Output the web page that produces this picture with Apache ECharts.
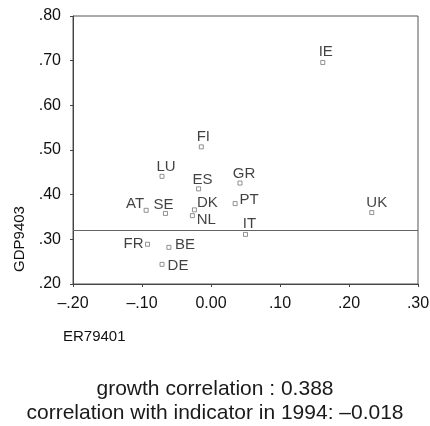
<!DOCTYPE html>
<html>
<head>
<meta charset="utf-8">
<script src="https://cdn.jsdelivr.net/npm/echarts@6/dist/echarts.min.js"></script>
<style>
  html, body { margin: 0; padding: 0; background: #fff; }
  #chart { width: 430px; height: 426px; }
</style>
</head>
<body>
<div id="chart"></div>
<script>
// Country codes and their two measures
const countries = ['IE', 'FI', 'LU', 'ES', 'GR', 'AT', 'SE', 'DK', 'NL', 'PT', 'IT', 'UK', 'FR', 'BE', 'DE'];
const er79401 = [0.162, -0.014, -0.071, -0.018, 0.042, -0.094, -0.066, -0.024, -0.027, 0.035, 0.050, 0.233, -0.092, -0.061, -0.071];
const gdp9403 = [0.696, 0.507, 0.441, 0.413, 0.426, 0.365, 0.358, 0.366, 0.353, 0.380, 0.311, 0.360, 0.289, 0.282, 0.244];

// Horizontal reference level on the GDP axis
const refLevel = 0.321;

// Tick labels
const xTicks = ['–.20', '–.10', '0.00', '.10', '.20', '.30'];
const yTicks = ['.20', '.30', '.40', '.50', '.60', '.70', '.80'];

// Summary lines shown beneath the plot
const summary = ['growth correlation : 0.388', 'correlation with indicator in 1994: –0.018'];

// Label placement around each marker, in pixels [dx, dy]
const labelShift = {
  IE: [3, -11], FI: [2, -10], LU: [4, -9], ES: [4, -9], GR: [4, -9],
  AT: [-11, -6], SE: [-2, -9], DK: [13, -7], NL: [14, 4], PT: [14, -4],
  IT: [4, -11], UK: [5, -10], FR: [-14, 0], BE: [16, -3], DE: [16, 2]
};

const FONT = '"Liberation Sans", Arial, Helvetica, sans-serif';

const points = countries.map((c, i) => ({
  name: c,
  value: [er79401[i], gdp9403[i]],
  label: { offset: labelShift[c] }
}));

const chart = echarts.init(document.getElementById('chart'), null, { renderer: 'canvas' });

chart.setOption({
  animation: false,
  backgroundColor: '#fff',
  grid: {
    left: 73, right: 12, top: 16, bottom: 142,
    containLabel: false, outerBoundsMode: 'none',
    show: true, borderColor: '#555', borderWidth: 1, backgroundColor: 'transparent'
  },
  xAxis: {
    type: 'value', min: -0.2, max: 0.3, interval: 0.1,
    axisLine: { onZero: false, lineStyle: { color: '#444', width: 1 } },
    axisTick: { show: true, inside: false, length: 3, lineStyle: { color: '#444' } },
    splitLine: { show: false },
    axisLabel: {
      margin: 12, color: '#111', fontSize: 16, fontFamily: FONT, hideOverlap: false,
      formatter: v => xTicks[Math.round((v + 0.2) * 10)]
    }
  },
  yAxis: {
    type: 'value', min: 0.2, max: 0.8, interval: 0.1,
    axisLine: { show: true, onZero: false, lineStyle: { color: '#444', width: 1 } },
    axisTick: { show: true, inside: false, length: 3, lineStyle: { color: '#444' } },
    splitLine: { show: false },
    axisLabel: {
      margin: 12, color: '#111', fontSize: 16, fontFamily: FONT, hideOverlap: false,
      formatter: v => yTicks[Math.round((v - 0.2) * 10)]
    }
  },
  title: {
    text: summary.join('\n'),
    left: 'center', top: 372,
    textStyle: { fontSize: 21, fontWeight: 'normal', color: '#1a1a1a', fontFamily: FONT, lineHeight: 24 }
  },
  graphic: [
    {
      type: 'text', left: 63, top: 329,
      style: { text: 'ER79401', fontSize: 15, fontFamily: FONT, fill: '#111' }
    },
    {
      type: 'text', x: 20, y: 239, rotation: Math.PI / 2,
      style: { text: 'GDP9403', fontSize: 15, fontFamily: FONT, fill: '#111', align: 'center', verticalAlign: 'middle' }
    }
  ],
  series: [{
    type: 'scatter',
    symbol: 'rect',
    symbolSize: 4,
    itemStyle: { color: '#fff', borderColor: '#777', borderWidth: 1 },
    label: {
      show: true, position: 'inside', align: 'center', verticalAlign: 'middle',
      formatter: p => p.name, fontSize: 15, fontFamily: FONT, color: '#111'
    },
    emphasis: { disabled: true },
    data: points,
    markLine: {
      silent: true, symbol: 'none', animation: false,
      label: { show: false },
      lineStyle: { color: '#666', width: 1, type: 'solid' },
      data: [{ yAxis: refLevel }]
    }
  }]
});
</script>
</body>
</html>
